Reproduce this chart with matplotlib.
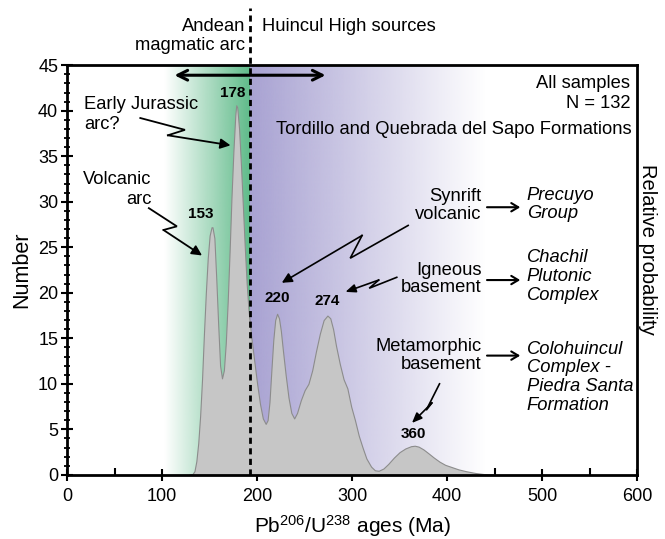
import matplotlib
matplotlib.use("Agg")
import matplotlib.pyplot as plt
import numpy as np
from matplotlib.ticker import MultipleLocator

plt.rcParams['font.family'] = ['Liberation Sans', 'DejaVu Sans']
plt.rcParams['mathtext.fontset'] = 'custom'
plt.rcParams['mathtext.rm'] = 'Liberation Sans'
plt.rcParams['mathtext.default'] = 'regular'

# probability density curve (age in Ma, number)
ages = [128, 132, 134, 136, 138, 140, 142, 144, 146, 148, 150, 152, 153, 155, 157,
        159, 161, 163, 165, 167, 169, 171, 173, 175, 177, 178, 179, 181, 183, 185,
        187, 189, 191, 194, 197, 200, 203, 206, 209, 211, 213, 215, 217, 219, 221,
        223, 225, 227, 230, 233, 236, 239, 242, 246, 250, 254, 258, 262, 266, 270,
        274, 277, 280, 283, 287, 291, 295, 299, 303, 307, 311, 315, 320, 324, 328,
        333, 338, 344, 350, 356, 362, 366, 370, 375, 380, 386, 392, 398, 405, 412,
        420, 430, 440, 450]
number = [0, 0.1, 0.4, 1.5, 3.5, 6.5, 10.5, 15.5, 20, 23.8, 26.3, 27.2, 27.2, 26, 21.5,
          16.5, 12, 10.6, 11.5, 14.5, 19, 24.5, 30.5, 35.5, 39.5, 40.6, 40.4, 38, 34, 29.5,
          25, 21, 18, 15, 12.5, 10, 7.8, 6.2, 5.6, 6, 8, 11.5, 14.8, 17, 17.7,
          17.2, 15.8, 13.8, 11, 8.5, 6.8, 6.2, 6.8, 8.2, 9.3, 10, 11.5, 13.6, 15.5, 17,
          17.5, 17.2, 16, 14.2, 12.2, 10.5, 9.5, 7.5, 6, 4.3, 3, 1.8, 0.9, 0.5, 0.45,
          0.7, 1.2, 1.9, 2.5, 2.9, 3.15, 3.2, 3.1, 2.8, 2.4, 1.9, 1.45, 1.1, 0.85, 0.6,
          0.4, 0.2, 0.07, 0]

peak_ages = [153, 178, 220, 274, 360]
peak_label_pos = [(141, 28.7), (174, 41.9), (221, 19.4), (274, 19.1), (364, 4.5)]

sample_text = 'All samples\nN = 132'
formation_text = 'Tordillo and Quebrada del Sapo Formations'
divide_age = 192

fig = plt.figure(figsize=(6.65, 5.39), dpi=100)
ax = fig.add_axes([0.101, 0.119, 0.857, 0.760])

# background gradients
def gradient(x0, x1, rgb, fade_right):
    n = 256
    img = np.ones((1, n, 4))
    img[0, :, :3] = np.array(rgb) / 255.0
    a = np.linspace(0, 1, n)
    img[0, :, 3] = a[::-1] if fade_right else a
    ax.imshow(img, extent=[x0, x1, 0, 45], aspect='auto', zorder=0, interpolation='bilinear')

gradient(102, divide_age, (96, 187, 138), False)
gradient(divide_age, 440, (168, 162, 210), True)

ax.fill_between(ages, number, color='#c6c6c6', edgecolor='#8c8c8c', lw=0.8, zorder=2)

ax.axvline(divide_age, ymin=0, ymax=1.14, color='black', ls=(0, (2.2, 1.6)), lw=2,
           clip_on=False, zorder=4)

ax.set_xlim(0, 600)
ax.set_ylim(0, 45)
ax.xaxis.set_major_locator(MultipleLocator(100))
ax.xaxis.set_minor_locator(MultipleLocator(50))
ax.yaxis.set_major_locator(MultipleLocator(5))
ax.yaxis.set_minor_locator(MultipleLocator(1))
ax.tick_params(axis='x', which='major', direction='inout', length=9, width=1.5, labelsize=13, pad=5)
ax.tick_params(axis='x', which='minor', direction='in', length=5, width=1.5)
ax.tick_params(axis='y', which='major', direction='inout', length=9, width=1.5, labelsize=13, pad=2)
ax.tick_params(axis='y', which='minor', direction='inout', length=5, width=1.3)
for s in ax.spines.values():
    s.set_linewidth(2)
    s.set_zorder(5)

ax.set_xlabel('Pb$^{206}$/U$^{238}$ ages (Ma)', fontsize=15, labelpad=6)
ax.set_ylabel('Number', fontsize=15.5, labelpad=4)
fig.text(0.974, 0.537, 'Relative probability', rotation=-90, fontsize=14.5,
         ha='center', va='center')

fs = 13.2
ax.text(187.5, 48.2, 'Andean\nmagmatic arc', ha='right', va='center',
        fontsize=fs, clip_on=False, linespacing=1.2)
ax.text(205, 49.2, 'Huincul High sources', ha='left', va='center',
        fontsize=fs, clip_on=False)
ax.annotate('', xy=(113, 43.9), xytext=(272, 43.9),
            arrowprops=dict(arrowstyle='<->,head_length=0.7,head_width=0.35', lw=2.2,
                            color='black', shrinkA=0, shrinkB=0), zorder=6)

ax.text(592.6, 41.9, sample_text, ha='right', va='center', fontsize=fs, linespacing=1.2)
ax.text(594.7, 37.9, formation_text, ha='right', va='center', fontsize=fs)

for (x, y), p in zip(peak_label_pos, peak_ages):
    ax.text(x, y, str(p), ha='center', va='center', fontsize=11, fontweight='bold', zorder=6)

def bolt(points, lw=1.3, hw=0.3):
    xs, ys = zip(*points[:-1])
    ax.plot(xs, ys, color='black', lw=lw, zorder=6, solid_joinstyle='miter')
    ax.annotate('', xy=points[-1], xytext=points[-2],
                arrowprops=dict(arrowstyle='-|>,head_length=0.6,head_width=%s' % hw,
                                lw=lw, color='black', shrinkA=0, shrinkB=0), zorder=6)

ax.text(18, 39.6, 'Early Jurassic\narc?', ha='left', va='center', fontsize=fs, linespacing=1.2)
bolt([(77, 39.2), (124, 37.9), (106, 37.3), (172, 36.2)])

ax.text(17, 32.4, 'Volcanic', ha='left', va='center', fontsize=fs)
ax.text(89, 30.2, 'arc', ha='right', va='center', fontsize=fs)
bolt([(86, 29.3), (115.5, 27.3), (101.4, 26.9), (142, 24.1)])

ax.text(436.5, 29.6, 'Synrift\nvolcanic', ha='right', va='center', fontsize=fs, linespacing=1.1)
bolt([(359, 27.4), (298, 23.8), (310.5, 26.3), (226, 21.1)], lw=1.2)

ax.text(436.5, 21.5, 'Igneous\nbasement', ha='right', va='center', fontsize=fs, linespacing=1.05)
bolt([(347, 21.7), (318, 20.5), (328, 21.4), (293, 20.1)], lw=1.2, hw=0.25)

ax.text(436.5, 13.1, 'Metamorphic\nbasement', ha='right', va='center', fontsize=fs, linespacing=1.1)
bolt([(392, 10.0), (378, 7.1), (384, 7.9), (363, 5.7)], lw=1.2, hw=0.25)

right_labels = [(29.7, 'Precuyo\nGroup', 29.4), (21.8, 'Chachil\nPlutonic\nComplex', 21.4),
                (10.7, 'Colohuincul\nComplex -\nPiedra Santa\nFormation', 13.1)]
for y, txt, ya in right_labels:
    ax.text(484, y, txt, ha='left', va='center', fontsize=fs, style='italic', linespacing=1.15)
    ax.annotate('', xy=(477, ya), xytext=(442, ya),
                arrowprops=dict(arrowstyle='->,head_length=0.5,head_width=0.3', lw=1.5,
                                color='black', shrinkA=0, shrinkB=0))

fig.savefig('out.png', dpi=100)
